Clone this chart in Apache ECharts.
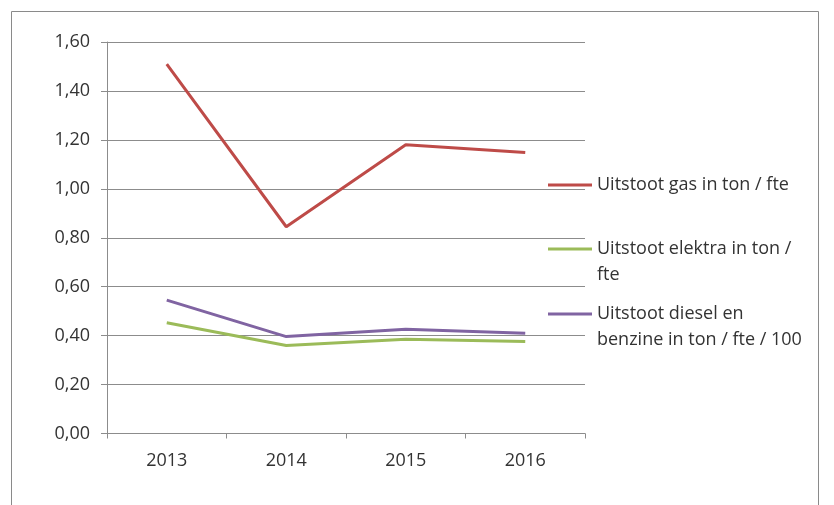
<!DOCTYPE html>
<html>
<head>
<meta charset="utf-8">
<script src="https://cdn.jsdelivr.net/npm/echarts@6/dist/echarts.min.js"></script>
<style>
html,body{margin:0;padding:0;background:#fff;}
#chart{width:834px;height:505px;}
</style>
</head>
<body>
<div id="chart"></div>
<script>
const categories = ['2013', '2014', '2015', '2016'];
const gasValues = [1.51, 0.845, 1.18, 1.148];
const elektraValues = [0.453, 0.36, 0.385, 0.376];
const dieselValues = [0.545, 0.396, 0.426, 0.41];
const seriesNames = ['Uitstoot gas in ton / fte', 'Uitstoot elektra in ton / fte', 'Uitstoot diesel en benzine in ton / fte / 100'];
const legendLines = [
  ['Uitstoot gas in ton / fte'],
  ['Uitstoot elektra in ton /', 'fte'],
  ['Uitstoot diesel en', 'benzine in ton / fte / 100']
];

const FONT = 'Open Sans';
const textColor = '#333333';
const gridColor = '#8c8c8c';
const LH = 26;
const FS = 18;

function legendFor(i, top) {
  const lines = legendLines[i];
  return {
    orient: 'vertical',
    left: 548,
    top: top,
    padding: 0,
    itemWidth: 44,
    itemHeight: 3,
    itemGap: 0,
    icon: 'rect',
    data: [seriesNames[i]],
    formatter: function () {
      if (lines.length === 1) return '{t|' + lines[0] + '}';
      return '{t|\u00a0}\n' + lines.map(function (l) { return '{t|' + l + '}'; }).join('\n');
    },
    textStyle: {
      fontFamily: FONT,
      fontSize: FS,
      color: textColor,
      rich: {t: {fontFamily: FONT, fontSize: FS, color: textColor, lineHeight: LH}}
    }
  };
}

const chart = echarts.init(document.getElementById('chart'), null, {renderer: 'canvas'});
chart.setOption({
  backgroundColor: '#fff',
  animation: false,
  graphic: [{
    type: 'rect',
    shape: {x: 11.5, y: 11.5, width: 807, height: 520},
    style: {fill: 'none', stroke: '#8a8a8a', lineWidth: 1},
    silent: true
  }],
  grid: {left: 107, right: 249, top: 42, bottom: 71.5, containLabel: false},
  legend: [legendFor(0, 176), legendFor(1, 214), legendFor(2, 279)],
  xAxis: {
    type: 'category',
    data: categories,
    boundaryGap: true,
    axisLine: {show: true, lineStyle: {color: gridColor, width: 1}},
    axisTick: {show: true, length: 5, lineStyle: {color: gridColor}, alignWithLabel: false},
    axisLabel: {fontFamily: FONT, fontSize: FS, color: textColor, margin: 18}
  },
  yAxis: {
    type: 'value',
    min: 0,
    max: 1.6,
    interval: 0.2,
    axisLine: {show: true, lineStyle: {color: gridColor, width: 1}},
    axisTick: {show: true, length: 6, lineStyle: {color: gridColor}},
    splitLine: {show: true, lineStyle: {color: gridColor, width: 1}},
    axisLabel: {
      fontFamily: FONT, fontSize: FS, color: textColor, margin: 17,
      formatter: function (v) { return v.toFixed(2).replace('.', ','); }
    }
  },
  series: [
    {name: seriesNames[0], type: 'line', data: gasValues, symbol: 'none', lineStyle: {color: '#BE4B48', width: 3}, itemStyle: {color: '#BE4B48'}},
    {name: seriesNames[1], type: 'line', data: elektraValues, symbol: 'none', lineStyle: {color: '#9BBB59', width: 3}, itemStyle: {color: '#9BBB59'}},
    {name: seriesNames[2], type: 'line', data: dieselValues, symbol: 'none', lineStyle: {color: '#8064A2', width: 3}, itemStyle: {color: '#8064A2'}}
  ]
});
</script>
</body>
</html>
